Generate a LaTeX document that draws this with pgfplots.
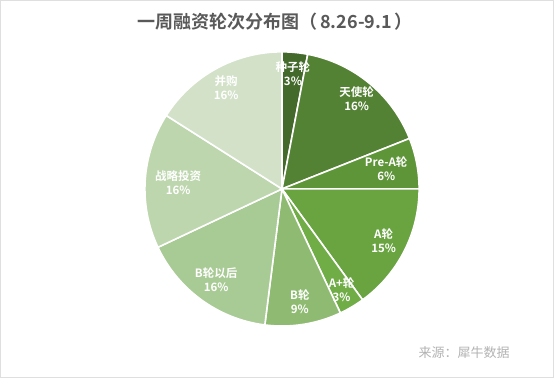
\documentclass[border=0pt]{standalone}
\usepackage{pgfplots}
\pgfplotsset{compat=1.18}
\usepackage{pgfplotstable}
\usepackage{fontspec}
\setmainfont{Noto Sans CJK SC}[BoldFont=* Bold]

\definecolor{slice0}{HTML}{43692B}
\definecolor{slice1}{HTML}{548235}
\definecolor{slice2}{HTML}{5F9539}
\definecolor{slice3}{HTML}{69A441}
\definecolor{slice4}{HTML}{70AD47}
\definecolor{slice5}{HTML}{8EBB71}
\definecolor{slice6}{HTML}{A8CA94}
\definecolor{slice7}{HTML}{BDD6AE}
\definecolor{slice8}{HTML}{D2E1C8}
\definecolor{titlegray}{HTML}{595959}

% pct = share in percent, lr = label distance from the centre
\pgfplotstableread[col sep=comma]{
name,pct,lr
种子轮,3,116
天使轮,16,117
Pre-A轮,6,106
A轮,15,114
A+轮,3,117
B轮,9,114
B轮以后,16,112
战略投资,16,104
并购,16,116
}\piedata

\newcommand\computeangles{%
  \gdef\curang{90}%
  \foreach \i in {0,...,8}{%
    \pgfplotstablegetelem{\i}{pct}\of\piedata
    \pgfmathsetmacro\endang{\curang-3.6*\pgfplotsretval}%
    \pgfmathsetmacro\midang{(\curang+\endang)/2}%
    \expandafter\xdef\csname pc\i\endcsname{\pgfplotsretval}%
    \expandafter\xdef\csname sa\i\endcsname{\curang}%
    \expandafter\xdef\csname ea\i\endcsname{\endang}%
    \expandafter\xdef\csname ma\i\endcsname{\midang}%
    \pgfplotstablegetelem{\i}{name}\of\piedata
    \expandafter\xdef\csname nm\i\endcsname{\pgfplotsretval}%
    \pgfplotstablegetelem{\i}{lr}\of\piedata
    \expandafter\xdef\csname lr\i\endcsname{\pgfplotsretval}%
    \xdef\curang{\endang}%
  }%
}
\computeangles

\begin{document}
\begin{tikzpicture}
\begin{axis}[
  x=1pt, y=1pt,
  xmin=0, xmax=554, ymin=0, ymax=378,
  hide axis, clip=false,
]
\draw[gray!25, line width=0.6pt] (axis cs:0.5,0.5) rectangle (axis cs:553.5,377.5);
\pgfplotsinvokeforeach{0,...,8}{%
  \edef\doslice{\noexpand\fill[fill=slice#1, draw=white, line width=1.6pt, line join=round]
    (axis cs:282,189) -- ++(\csname sa#1\endcsname:137pt)
    arc[start angle=\csname sa#1\endcsname, end angle=\csname ea#1\endcsname, radius=137pt] -- cycle;}%
  \doslice
}
\pgfplotsinvokeforeach{0,...,8}{%
  \edef\dolabel{\noexpand\path (axis cs:282,189) ++(\csname ma#1\endcsname:\csname lr#1\endcsname pt)
    node[text=white, align=center, font=\noexpand\fontsize{11.5}{14}\noexpand\selectfont\noexpand\bfseries, inner sep=0pt]
    {\csname nm#1\endcsname\noexpand\\\csname pc#1\endcsname\noexpand\%};}%
  \dolabel
}
\node[text=titlegray, font=\fontsize{18}{21}\selectfont\bfseries] at (axis cs:275,356) {一周融资轮次分布图（\,8.26-9.1\,）};
\node[text=gray!60, anchor=west, font=\fontsize{13}{15}\selectfont] at (axis cs:415,25) {来源：犀牛数据};
\end{axis}
\end{tikzpicture}
\end{document}
